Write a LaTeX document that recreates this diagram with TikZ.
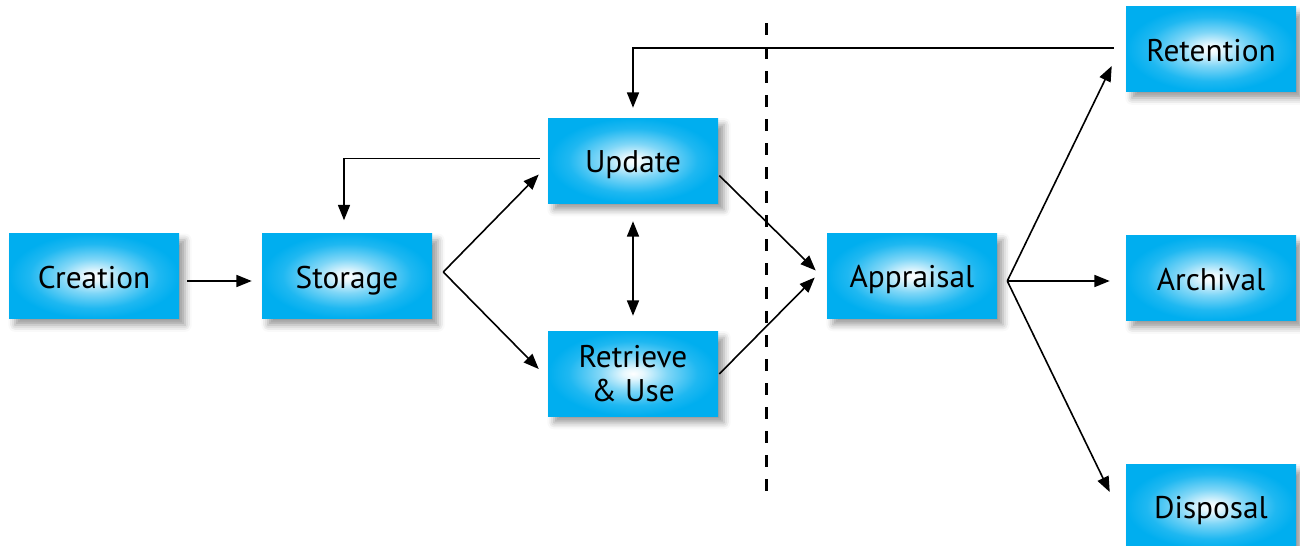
\documentclass[tikz,border=0pt]{standalone}
\usepackage{fontspec}
\setmainfont{PT Sans}
\usetikzlibrary{arrows.meta,calc,shadows.blur}
\definecolor{boxcyan}{HTML}{00AEEF}
\pgfdeclareradialshading{boxshade}{\pgfpoint{0bp}{0bp}}{%
  color(0bp)=(white);
  color(3bp)=(boxcyan!10!white);
  color(10bp)=(boxcyan!50!white);
  color(19bp)=(boxcyan!88!white);
  color(25bp)=(boxcyan);
  color(50bp)=(boxcyan)}
\tikzset{
  box/.style={rectangle, shading=boxshade, minimum width=127.5pt, minimum height=63.75pt,
    inner sep=0pt, align=center, font=\fontsize{23.5}{25.5}\selectfont,
    text height=18pt, text depth=0pt,
    blur shadow={shadow xshift=4.5pt, shadow yshift=-5pt, shadow blur radius=5pt, shadow opacity=40}},
  twoline/.style={text height=42.5pt, text depth=0pt},
  arr/.style={line width=1.2pt, -{Triangle[length=11.5pt,width=9pt]}},
  darr/.style={line width=1.2pt, {Triangle[length=11.5pt,width=9pt]}-{Triangle[length=11.5pt,width=9pt]}},
  divider/.style={line width=2.25pt, dash pattern=on 9pt off 9pt}
}
\begin{document}
\begin{tikzpicture}[x=0.75pt,y=-0.75pt]
\useasboundingbox (0,0) rectangle (1300,546);
\node[box] (creation) at (94,276) {Creation};
\node[box] (storage) at (347,276) {Storage};
\node[box] (update) at (633,160.5) {Update};
\node[box, twoline] (retrieve) at (633,373.5) {Retrieve\\\& Use};
\node[box] (appraisal) at (912,275.5) {Appraisal};
\node[box] (retention) at (1211,49) {Retention};
\node[box] (archival) at (1211,278) {Archival};
\node[box] (disposal) at (1211,506.5) {Disposal};
% divider
\draw[divider] (766,23) -- (766,492);
% connectors
\draw[arr] ($(creation.east)+(8,5)$) -- ($(storage.west)+(-10,5)$);
\coordinate (sf) at ($(storage.east)+(11,-4)$);
\draw[arr] (sf) -- ($(update.west)+(-9,14)$);
\draw[arr] (sf) -- ($(retrieve.west)+(-9,-4.5)$);
\draw[arr] ($(update.west)+(-8,-2)$) -| ($(storage.north)+(-3,-13)$);
\draw[darr] ($(update.south)+(0,18)$) -- ($(retrieve.north)+(0,-15)$);
\draw[arr] ($(update.east)+(1,15)$) -- ($(appraisal.west)+(-11,-5)$);
\draw[arr] ($(retrieve.east)+(1,0.5)$) -- ($(appraisal.west)+(-12,2)$);
\draw[arr] ($(retention.west)+(-12,-1)$) -| ($(update.north)+(0,-10)$);
\coordinate (af) at ($(appraisal.east)+(10,5.5)$);
\draw[arr] (af) -- ($(retention.west)+(-14,17)$);
\draw[arr] (af) -- ($(archival.west)+(-16,3)$);
\draw[arr] (af) -- ($(disposal.west)+(-16,-14.5)$);
\end{tikzpicture}
\end{document}
